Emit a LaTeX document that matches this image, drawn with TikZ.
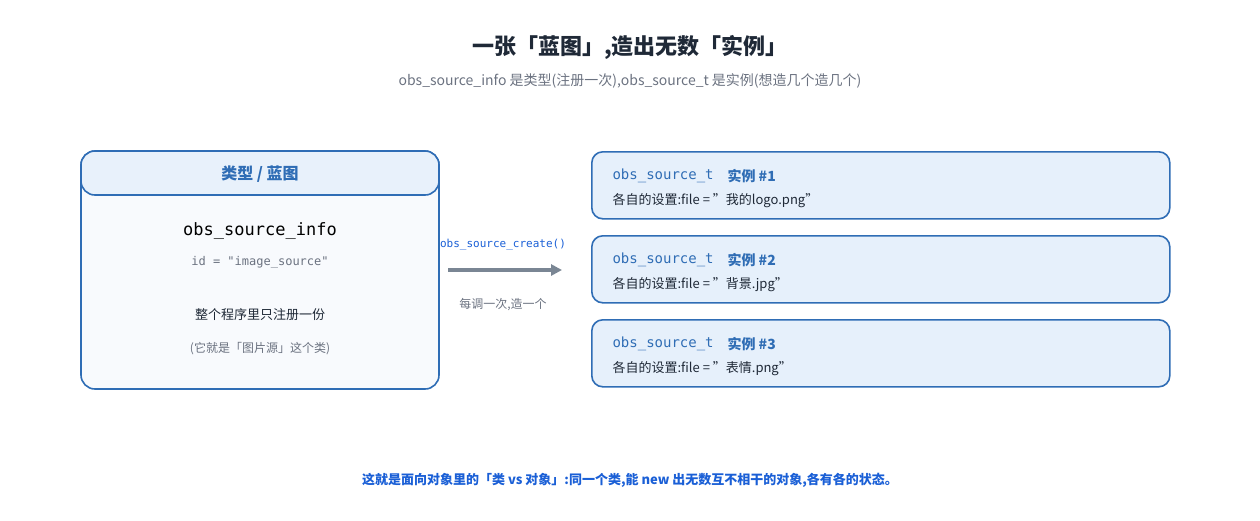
\documentclass[tikz,border=0pt]{standalone}
\usepackage{fontspec}
\setmainfont{Noto Sans CJK SC}
\setmonofont{DejaVu Sans Mono}
\usetikzlibrary{positioning,arrows.meta}

\definecolor{boxblue}{HTML}{2F6DB5}
\definecolor{headfill}{HTML}{E8F1FB}
\definecolor{bodyfill}{HTML}{F8FAFD}
\definecolor{instfill}{HTML}{E6F0FB}
\definecolor{textgray}{HTML}{6B7280}
\definecolor{darktext}{HTML}{1F2937}
\definecolor{arrowgray}{HTML}{7A8694}
\definecolor{notblue}{HTML}{1A5FD6}

\tikzset{
    panel/.style={draw=boxblue, line width=1.6pt, rounded corners=14pt},
    inst/.style={panel, fill=instfill, minimum width=578pt, minimum height=67pt, rounded corners=11pt},
    mono/.style={font=\ttfamily\fontsize{#1}{#1}\selectfont},
    plain/.style={font=\fontsize{#1}{#1}\selectfont}
}

\begin{document}
\begin{tikzpicture}[x=1pt,y=-1pt]
    \useasboundingbox (0,0) rectangle (1260,520);

    %title
    \node[plain=22, font=\bfseries\fontsize{22}{22}\selectfont, text=darktext] (title) at (630,47) {一张「蓝图」,造出无数「实例」};
    \node[plain=14, text=textgray] (sub) at (630,81) {obs\_source\_info 是类型(注册一次),obs\_source\_t 是实例(想造几个造几个)};

    %type box
    \draw[panel, fill=bodyfill] (81,151) rectangle (439,389);
    \draw[panel, fill=headfill] (81,151) rectangle (439,195);
    \node[font=\bfseries\fontsize{16}{16}\selectfont, text=boxblue] (head) at (260,174) {类型 / 蓝图};
    \node[mono=17, text=black] (info) at (260,231) {obs\_source\_info};
    \node[mono=12, text=textgray] (id) at (260,262) {id = "image\_source"};
    \node[plain=13, text=darktext] (once) at (260,315) {整个程序里只注册一份};
    \node[plain=12, text=textgray] (cls) at (260,349) {(它就是「图片源」这个类)};

    %arrow
    \coordinate (from) at (448,270);
    \coordinate (to) at (562,270);
    \draw[arrowgray, line width=3.5pt, -{Triangle[length=11pt,width=11pt]}] (from) -- (to);
    \node[mono=11, text=notblue] (call) at (503,245) {obs\_source\_create()};
    \node[plain=12, text=textgray] (each) at (503,305) {每调一次,造一个};

    %instances
    \foreach \i/\y/\f in {1/151/我的logo.png, 2/235/背景.jpg, 3/319/表情.png} {
        \node[inst, anchor=north west] (inst\i) at (591,\y) {};
        \node[mono=14, text=boxblue, anchor=west] (t\i) at (609,\y+25) {obs\_source\_t};
        \node[font=\bfseries\fontsize{14}{14}\selectfont, text=boxblue, anchor=west] (n\i) at (724,\y+25) {实例 \#\i};
        \node[plain=13, text=darktext, anchor=west] (f\i) at (609,\y+50) {各自的设置:file = "\f"};
    }

    %note
    \node[font=\bfseries\fontsize{13}{13}\selectfont, text=notblue] (note) at (630,480) {这就是面向对象里的「类 vs 对象」:同一个类,能 new 出无数互不相干的对象,各有各的状态。};
\end{tikzpicture}
\end{document}
